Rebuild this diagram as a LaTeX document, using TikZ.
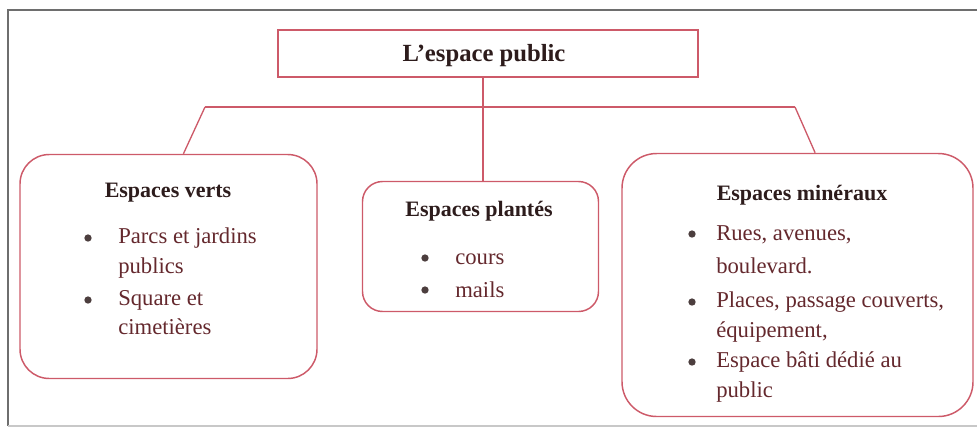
\documentclass[tikz,border=0pt]{standalone}
\usepackage{fontspec}
\setmainfont{Liberation Serif}
\usetikzlibrary{calc}
\definecolor{boxred}{RGB}{205,90,105}
\definecolor{itemtxt}{RGB}{100,40,45}
\definecolor{headtxt}{RGB}{45,28,28}
\definecolor{framegray}{RGB}{110,110,110}
\definecolor{framelight}{RGB}{200,200,200}
\begin{document}
\begin{tikzpicture}[x=0.75pt,y=-0.75pt,
  box/.style={draw=boxred, line width=1.1pt, rounded corners=#1, inner sep=0pt},
  link/.style={draw=boxred, line width=1pt},
  head/.style={anchor=base, inner sep=0pt, text=headtxt, font=\fontsize{16.5}{20}\selectfont\bfseries},
  item/.style={anchor=base west, inner sep=0pt, text=itemtxt, font=\fontsize{17}{21}\selectfont},
  dot/.style={circle, fill=headtxt!85, inner sep=0pt, minimum size=5.5pt}]
\useasboundingbox (0,0) rectangle (977,430);
% frame of the scanned page
\draw[framegray, line width=1.1pt] (8,426) -- (8,10) -- (977,10);
\draw[framelight, line width=0.8pt] (8,426) -- (977,426);

% boxes
\node[box=0pt, minimum width=315pt, minimum height=35.25pt] (top) at (488,53.5) {};
\node[anchor=base, inner sep=0pt, text=headtxt, font=\fontsize{18.5}{22}\selectfont\bfseries] (title) at (484,61) {L'espace public};
\node[box=22pt, minimum width=222.75pt, minimum height=168pt] (verts) at (168.5,266.5) {};
\node[box=15pt, minimum width=177pt, minimum height=97.5pt] (plantes) at (480.5,246.5) {};
\node[box=26pt, minimum width=263.25pt, minimum height=197.25pt] (mineraux) at (797.5,285) {};

% connectors
\coordinate (jc) at (483,107);
\coordinate (jl) at (205,107);
\coordinate (jr) at (795,107);
\draw[link] (top.south -| jc) -- (plantes.north -| jc);
\draw[link] (jl) -- (jr);
\draw[link] (jl) -- ($(verts.north west)!0.55!(verts.north east)$);
\draw[link] (jr) -- ($(mineraux.north west)!0.55!(mineraux.north east)$);

% Espaces verts
\node[head] (hv) at (168,197) {Espaces verts};
\node[dot] (bv1) at (88,238) {};
\node[item] (v1a) at (118,243) {Parcs et jardins};
\node[item] (v1b) at (118,273) {publics};
\node[dot] (bv2) at (88,300) {};
\node[item] (v2a) at (118,305) {Square et};
\node[item] (v2b) at (118,334) {cimetières};

% Espaces plantés
\node[head] (hp) at (479,216) {Espaces plantés};
\node[dot] (bp1) at (425,258) {};
\node[item] (p1) at (455,264) {cours};
\node[dot] (bp2) at (425,290) {};
\node[item] (p2) at (455,297) {mails};

% Espaces minéraux
\node[head] (hm) at (802,200) {Espaces minéraux};
\node[dot] (bm1) at (692,234) {};
\node[item] (m1a) at (716,240) {Rues, avenues,};
\node[item] (m1b) at (716,273) {boulevard.};
\node[dot] (bm2) at (692,302) {};
\node[item] (m2a) at (716,307) {Places, passage couverts,};
\node[item] (m2b) at (716,337) {équipement,};
\node[dot] (bm3) at (692,362) {};
\node[item] (m3a) at (716,367) {Espace bâti dédié au};
\node[item] (m3b) at (716,397) {public};
\end{tikzpicture}
\end{document}
